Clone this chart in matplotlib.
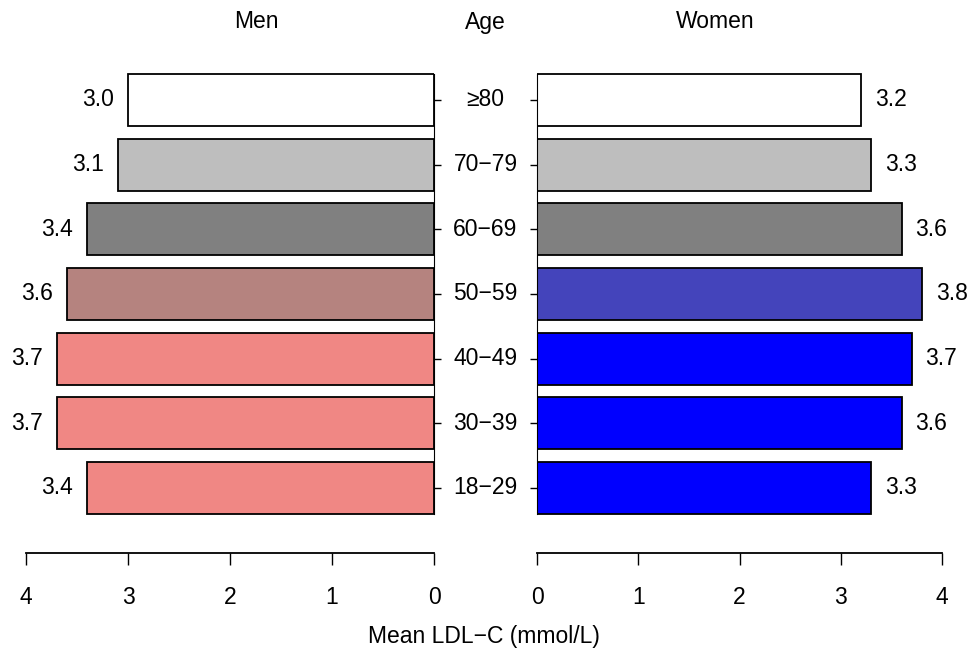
import matplotlib
matplotlib.use("Agg")
import matplotlib.pyplot as plt
from matplotlib.transforms import blended_transform_factory

plt.rcParams['font.family'] = ['Liberation Sans', 'DejaVu Sans']

ages = ["18−29", "30−39", "40−49", "50−59", "60−69", "70−79", "≥80"]
men = [3.4, 3.7, 3.7, 3.6, 3.4, 3.1, 3.0]
women = [3.3, 3.6, 3.7, 3.8, 3.6, 3.3, 3.2]
men_colors = ["#F08784", "#F08784", "#F08784", "#B5837F", "#808080", "#BEBEBE", "#FFFFFF"]
women_colors = ["#0000FF", "#0000FF", "#0000FF", "#4444BB", "#808080", "#BEBEBE", "#FFFFFF"]
ticks = [0, 1, 2, 3, 4]

W, H = 971, 649
fig = plt.figure(figsize=(W / 100, H / 100), dpi=100)

def fx(px):
    return px / W

def fy(py):
    return 1 - py / H

top_px, bot_px = 60, 553
px_per_unit = (488 - 100) / 6.0
ytop = 6 + (100 - top_px) / px_per_unit
ybot = 0 - (bot_px - 488) / px_per_unit

axL = fig.add_axes([fx(26), fy(bot_px), fx(434 - 26), (bot_px - top_px) / H])
axR = fig.add_axes([fx(537), fy(bot_px), fx(942 - 537), (bot_px - top_px) / H])

pos = list(range(len(ages)))
FS = 16.5

for ax, vals, cols, side in [(axL, men, men_colors, 'L'), (axR, women, women_colors, 'R')]:
    ax.barh(pos, vals, height=0.8, color=cols, edgecolor='black', linewidth=1.3, zorder=2)
    ax.set_ylim(ybot, ytop)
    ax.set_xlim(0, 4)
    for s in ax.spines.values():
        s.set_visible(False)
    ax.spines['bottom'].set_visible(True)
    ax.spines['bottom'].set_linewidth(1.3)
    ax.set_xticks(ticks)
    ax.set_xticklabels([str(t) for t in ticks])
    ax.tick_params(axis='x', direction='out', length=8.5, width=1.0, pad=15, labelsize=FS)
    ax.patch.set_visible(False)
    if side == 'L':
        ax.invert_xaxis()
        ax.spines['right'].set_visible(True)
        ax.spines['right'].set_bounds(-0.4, 6.4)
        ax.yaxis.tick_right()
        for p, v in zip(pos, vals):
            ax.annotate(f"{v:.1f}", (v, p), xytext=(-10, 0), textcoords='offset points',
                        ha='right', va='center', fontsize=FS)
    else:
        ax.spines['left'].set_visible(True)
        ax.spines['left'].set_bounds(-0.4, 6.4)
        ax.yaxis.tick_left()
        for p, v in zip(pos, vals):
            ax.annotate(f"{v:.1f}", (v, p), xytext=(10, 0), textcoords='offset points',
                        ha='left', va='center', fontsize=FS)
    ax.set_yticks(pos)
    ax.set_yticklabels([])
    ax.tick_params(axis='y', direction='out', length=5, width=1.0)

trans = blended_transform_factory(fig.transFigure, axL.transData)
for p, a in zip(pos, ages):
    fig.text(fx(485.5), p, a, transform=trans, ha='center', va='center', fontsize=FS)

fig.text(fx(256), fy(22), "Men", ha='center', va='center', fontsize=FS)
fig.text(fx(485), fy(22), "Age", ha='center', va='center', fontsize=FS)
fig.text(fx(715), fy(22), "Women", ha='center', va='center', fontsize=FS)
fig.text(fx(484), fy(636), "Mean LDL−C (mmol/L)", ha='center', va='center', fontsize=FS)

fig.savefig("out.png", dpi=100)
